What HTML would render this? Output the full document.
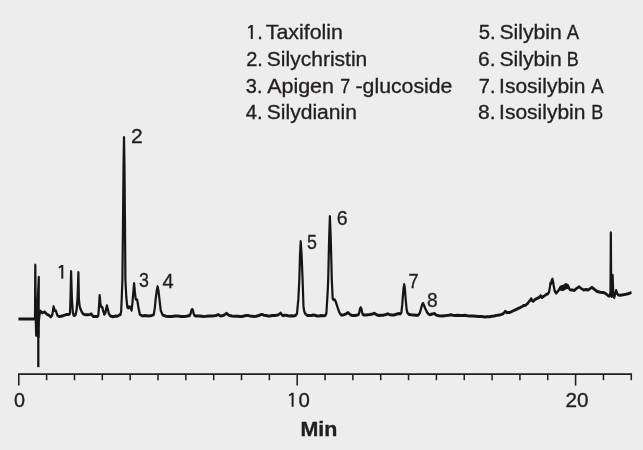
<!DOCTYPE html>
<html><head><meta charset="utf-8">
<style>
html,body{margin:0;padding:0;background:#ededed;}
body{width:643px;height:450px;overflow:hidden;}
svg{display:block;}
text{font-family:"Liberation Sans",sans-serif;font-size:20.7px;fill:#231f20;stroke:#231f20;stroke-width:0.35px;}
</style></head>
<body>
<svg width="643" height="450" viewBox="0 0 643 450">
<rect width="643" height="450" fill="#ededed"/>
<g stroke="#231f20" stroke-width="1.55" fill="none">
<line x1="18.10" y1="374.1" x2="631.98" y2="374.1"/>
<line x1="18.80" y1="374.1" x2="18.80" y2="385.6"/>
<line x1="46.64" y1="374.1" x2="46.64" y2="380.2"/>
<line x1="74.48" y1="374.1" x2="74.48" y2="380.2"/>
<line x1="102.32" y1="374.1" x2="102.32" y2="380.2"/>
<line x1="130.16" y1="374.1" x2="130.16" y2="380.2"/>
<line x1="158.00" y1="374.1" x2="158.00" y2="380.2"/>
<line x1="185.84" y1="374.1" x2="185.84" y2="380.2"/>
<line x1="213.68" y1="374.1" x2="213.68" y2="380.2"/>
<line x1="241.52" y1="374.1" x2="241.52" y2="380.2"/>
<line x1="269.36" y1="374.1" x2="269.36" y2="380.2"/>
<line x1="297.20" y1="374.1" x2="297.20" y2="385.6"/>
<line x1="325.04" y1="374.1" x2="325.04" y2="380.2"/>
<line x1="352.88" y1="374.1" x2="352.88" y2="380.2"/>
<line x1="380.72" y1="374.1" x2="380.72" y2="380.2"/>
<line x1="408.56" y1="374.1" x2="408.56" y2="380.2"/>
<line x1="436.40" y1="374.1" x2="436.40" y2="380.2"/>
<line x1="464.24" y1="374.1" x2="464.24" y2="380.2"/>
<line x1="492.08" y1="374.1" x2="492.08" y2="380.2"/>
<line x1="519.92" y1="374.1" x2="519.92" y2="380.2"/>
<line x1="547.76" y1="374.1" x2="547.76" y2="380.2"/>
<line x1="575.60" y1="374.1" x2="575.60" y2="385.6"/>
<line x1="603.44" y1="374.1" x2="603.44" y2="380.2"/>
<line x1="631.28" y1="374.1" x2="631.28" y2="380.2"/>
</g>
<g transform="scale(0.74 1)"><polyline fill="none" stroke="#161616" stroke-width="3" stroke-linejoin="round" stroke-linecap="butt" points="24.86,318.9 35.14,318.9 45.68,318.9 47.30,318.9 47.70,265.1 48.38,320 48.92,335.5 50.00,318 52.43,277.2 52.03,337 52.57,320 54.19,311 57.30,312.9 60.41,311.9 63.51,314.4 66.08,315.2 68.65,316.9 70.54,315.2 72.43,306.6 73.92,310.5 75.54,310.8 77.43,315.2 80.00,316.6 82.43,316.2 85.00,315.7 87.57,315.1 90.00,314.5 91.89,314.5 93.65,314.3 94.59,313.2 95.27,299 96.08,271.6 97.16,299 98.38,312 99.46,315.3 100.68,315.6 102.16,314.5 103.51,310 104.73,299 105.95,272.6 106.62,299 107.57,306 108.78,309 110.54,312 112.16,313.8 113.92,314.4 116.22,314.8 118.92,314.7 121.35,314.5 123.31,313.8 124.86,315.6 126.49,316.6 129.05,316.4 131.49,316.6 132.84,315.5 133.65,308 134.66,295.4 135.68,303 136.49,306.5 137.43,307 138.38,307.5 139.46,311 140.95,314.3 142.30,313 143.38,309 144.46,305.7 145.68,309 147.03,313.5 149.19,316.1 152.70,316.7 156.22,316 158.78,316.3 161.22,315 162.84,314.5 163.78,311 164.59,296 165.41,280 166.28,220 166.96,165 167.57,137.4 168.18,165 168.85,220 169.46,280 170.68,297 172.03,307 173.24,308 174.32,306.8 175.68,307 176.76,308.5 177.84,310.3 178.92,303 181.22,283.5 182.30,292 183.31,298.7 184.32,299.6 185.41,300 186.35,304 187.16,308 189.05,314.5 192.16,315.9 195.95,315.6 200.00,316 205.41,315.4 207.84,314.5 209.19,308 210.41,298.7 211.76,291 212.97,286.6 214.19,291 215.41,298.7 216.35,305 217.30,310.8 219.86,315 224.32,316.2 228.38,316.4 232.43,316.5 236.49,316.1 240.54,316 244.59,316.4 248.65,316.5 252.03,316.3 254.59,315.8 256.22,315.8 257.84,313 258.78,310.2 259.73,309.4 260.68,310.2 261.62,313.5 262.97,315.6 264.86,316 267.57,316.1 270.27,316 274.32,316.4 278.38,316.3 282.43,316 286.49,316 289.19,315.8 291.89,315.5 295.00,314.6 297.97,316 301.35,315.5 303.78,314.6 306.22,313.2 308.11,314.6 310.14,315.6 313.51,316 317.57,316.3 321.62,316.2 324.32,316.6 327.03,316.5 329.73,316 332.43,315.5 335.14,315.4 337.84,316 340.54,316.2 343.24,316.5 345.95,316.3 348.65,315.8 351.35,315 354.05,314.4 356.76,315.2 359.46,315.6 362.16,316 364.86,316 367.57,315.6 371.62,315.5 375.68,315 379.32,313.1 381.08,315 382.43,315.8 384.46,315.2 386.49,315.2 390.54,316 393.24,315.7 395.95,316 399.32,315.6 401.35,313.5 402.43,305 403.24,298.7 404.46,280 405.41,255 406.35,241.6 407.57,255 408.92,280 410.14,306.7 411.08,311 412.03,313.3 415.27,315.4 420.27,315.6 422.97,315 425.68,315.3 428.38,316 431.08,316 433.78,315.6 436.49,315.8 439.73,315.4 441.08,313 442.16,300 442.97,289.3 443.51,280 444.73,240 445.81,216.4 447.03,240 448.38,280 449.59,298.7 450.95,299.8 452.43,299.8 453.65,301.5 454.86,304.3 456.49,308 458.11,311.7 459.73,313.8 461.22,315 463.11,315 465.00,314.7 467.57,313.8 470.14,312.6 471.89,313.6 473.51,314.8 476.22,315.6 479.73,315.5 483.11,315 484.59,314.5 485.54,312.5 486.35,309.2 487.43,307.7 488.51,309.2 489.32,312.5 490.41,314.5 491.89,315 494.59,315.1 497.30,314.8 500.00,314.6 503.38,314 506.08,313.3 508.78,314.7 512.16,315.5 514.86,315.2 517.57,315.3 521.62,314.5 524.19,313.8 527.03,314.8 529.73,315.1 532.43,315 536.49,314 539.19,313.5 540.95,314 542.43,312.5 543.51,305 544.46,296 545.41,288 546.22,284.5 547.03,288 547.84,296 548.65,303 549.46,309 550.41,312.5 552.30,314.2 555.41,314.8 558.51,315 562.16,315.3 564.86,315.2 566.49,314 567.43,312.6 568.65,309.5 569.86,306.1 570.81,304.2 571.76,303.4 572.84,305 574.32,308 575.95,310.5 577.43,312.6 579.05,314 580.54,314.7 582.16,314.5 583.78,314 585.68,313.8 587.57,313.5 588.78,314.6 590.00,315.3 593.24,315.8 597.57,315.9 602.70,315.6 606.08,315.3 609.46,314.8 612.16,315.3 614.86,315.5 618.24,315.3 621.62,315.5 625.00,315.6 628.38,315.3 631.76,315.8 635.14,316 639.19,316.1 643.24,316.3 647.30,316.6 651.35,316.6 654.73,316.9 658.11,316.8 661.49,316.7 664.86,316.3 667.57,316 670.27,315.5 672.30,315.3 674.32,315 676.08,314.9 677.84,314.4 680.41,313.5 682.84,311.2 684.86,312.8 686.49,312.4 687.84,312.5 689.86,312.2 691.89,311.5 693.92,310.6 695.95,310 698.24,309.3 700.54,308.2 702.30,307.9 704.05,307 705.81,306.6 707.43,305.5 709.05,305.6 710.68,305 712.57,303.8 714.32,302.1 716.22,300.5 717.84,298.6 719.19,300.8 720.68,301.2 722.97,299.5 725.68,298.5 728.38,297.5 730.68,295.6 732.16,297.5 734.46,296.5 736.49,295.5 738.24,294.3 740.27,294 742.03,291.9 743.11,287 743.78,283.3 744.73,283.6 745.54,280.5 746.49,279.0 747.43,281.5 748.38,286.5 749.59,290.8 751.35,293.2 753.11,292 754.86,290.3 756.22,288.6 757.30,287.2 758.11,289.4 759.05,286.6 759.86,289.6 760.81,286.4 761.62,289.4 762.57,285.6 763.38,288.6 764.19,284.6 765.00,287.8 765.95,284.8 766.76,287.6 767.57,285.6 768.65,287.6 769.73,289.4 771.08,290 773.65,290 776.08,290.5 779.05,288.5 782.43,286.8 785.54,288.5 788.78,290 791.89,289.5 795.00,290 797.57,288.5 799.86,287.4 803.38,289.4 806.76,291.4 811.49,292.2 816.89,292.8 819.59,294.2 821.89,295.8 823.78,296.2 825.00,292 825.47,232.7 825.95,292 826.76,296.5 827.84,275.2 828.92,296 830.07,297.6 831.35,294 832.57,290.5 834.05,293.5 835.68,295.1 837.84,295.2 840.54,294.9 843.24,294.6 845.95,294.2 848.65,293.7 850.81,293.2 853.38,292.4"/></g>
<line x1="38.3" y1="330" x2="38.3" y2="367.2" stroke="#161616" stroke-width="2.3"/>
<g opacity="0.999">
<text transform="translate(257.25 39.00) scale(0.9662 1)">.</text>
<text transform="translate(265.72 39.00) scale(1.0334 1)">Taxifolin</text>
<text transform="translate(246.25 65.80) scale(0.9662 1)">2.</text>
<text transform="translate(266.80 65.80) scale(1.0158 1)">Silychristin</text>
<text transform="translate(245.85 92.70) scale(0.9662 1)">3.</text>
<text transform="translate(267.14 92.70) scale(1.0376 1)">Apigen</text>
<text transform="translate(340.31 92.70) scale(0.8600 1)">7</text>
<text transform="translate(355.58 92.70) scale(1.0451 1)">-</text>
<text transform="translate(362.60 92.70) scale(1.0269 1)">glucoside</text>
<text transform="translate(245.64 119.40) scale(0.9796 1)">4.</text>
<text transform="translate(266.80 119.40) scale(1.0172 1)">Silydianin</text>
<text transform="translate(478.64 39.00) scale(0.9799 1)">5.</text>
<text transform="translate(499.40 39.00) scale(1.0224 1)">Silybin</text>
<text transform="translate(566.76 39.00) scale(0.8930 1)">A</text>
<text transform="translate(478.10 65.80) scale(1.0148 1)">6.</text>
<text transform="translate(499.40 65.80) scale(1.0224 1)">Silybin</text>
<text transform="translate(566.71 65.80) scale(0.8669 1)">B</text>
<text transform="translate(478.85 92.70) scale(0.9662 1)">7.</text>
<text transform="translate(499.06 92.70) scale(1.0150 1)">Isosilybin</text>
<text transform="translate(591.26 92.70) scale(0.8930 1)">A</text>
<text transform="translate(478.10 119.40) scale(1.0145 1)">8.</text>
<text transform="translate(499.06 119.40) scale(1.0150 1)">Isosilybin</text>
<text transform="translate(591.31 119.40) scale(0.8669 1)">B</text>
<text transform="translate(131.10 142.90) scale(1.0193 1)">2</text>
<text transform="translate(139.00 287.00) scale(0.8600 1)">3</text>
<text transform="translate(162.45 287.90) scale(0.9662 1)">4</text>
<text transform="translate(307.11 249.40) scale(0.8600 1)">5</text>
<text transform="translate(336.77 225.10) scale(0.9452 1)">6</text>
<text transform="translate(408.54 288.00) scale(0.8812 1)">7</text>
<text transform="translate(426.89 307.30) scale(0.9251 1)">8</text>
<text transform="translate(13.96 406.70) scale(0.9560 1)">0</text>
<text transform="translate(298.43 406.70) scale(0.9865 1)">0</text>
<text transform="translate(565.42 406.70) scale(0.9992 1)">20</text>
<text transform="translate(300.46 436.10) scale(1.0358 1)" font-weight="bold">Min</text>
<path transform="translate(247.90 39.00)" d="M2.9,-13.9 h2.0 v13.9 h-2.0 v-11.65 l-2.3,1.3 l-0.6,-1.45 z" fill="#231f20" stroke="none"/>
<path transform="translate(58.40 278.80)" d="M2.9,-13.9 h2.0 v13.9 h-2.0 v-11.65 l-2.3,1.3 l-0.6,-1.45 z" fill="#231f20" stroke="none"/>
<path transform="translate(288.70 406.70)" d="M2.9,-13.9 h2.0 v13.9 h-2.0 v-11.65 l-2.3,1.3 l-0.6,-1.45 z" fill="#231f20" stroke="none"/>
</g>
</svg>
</body></html>
